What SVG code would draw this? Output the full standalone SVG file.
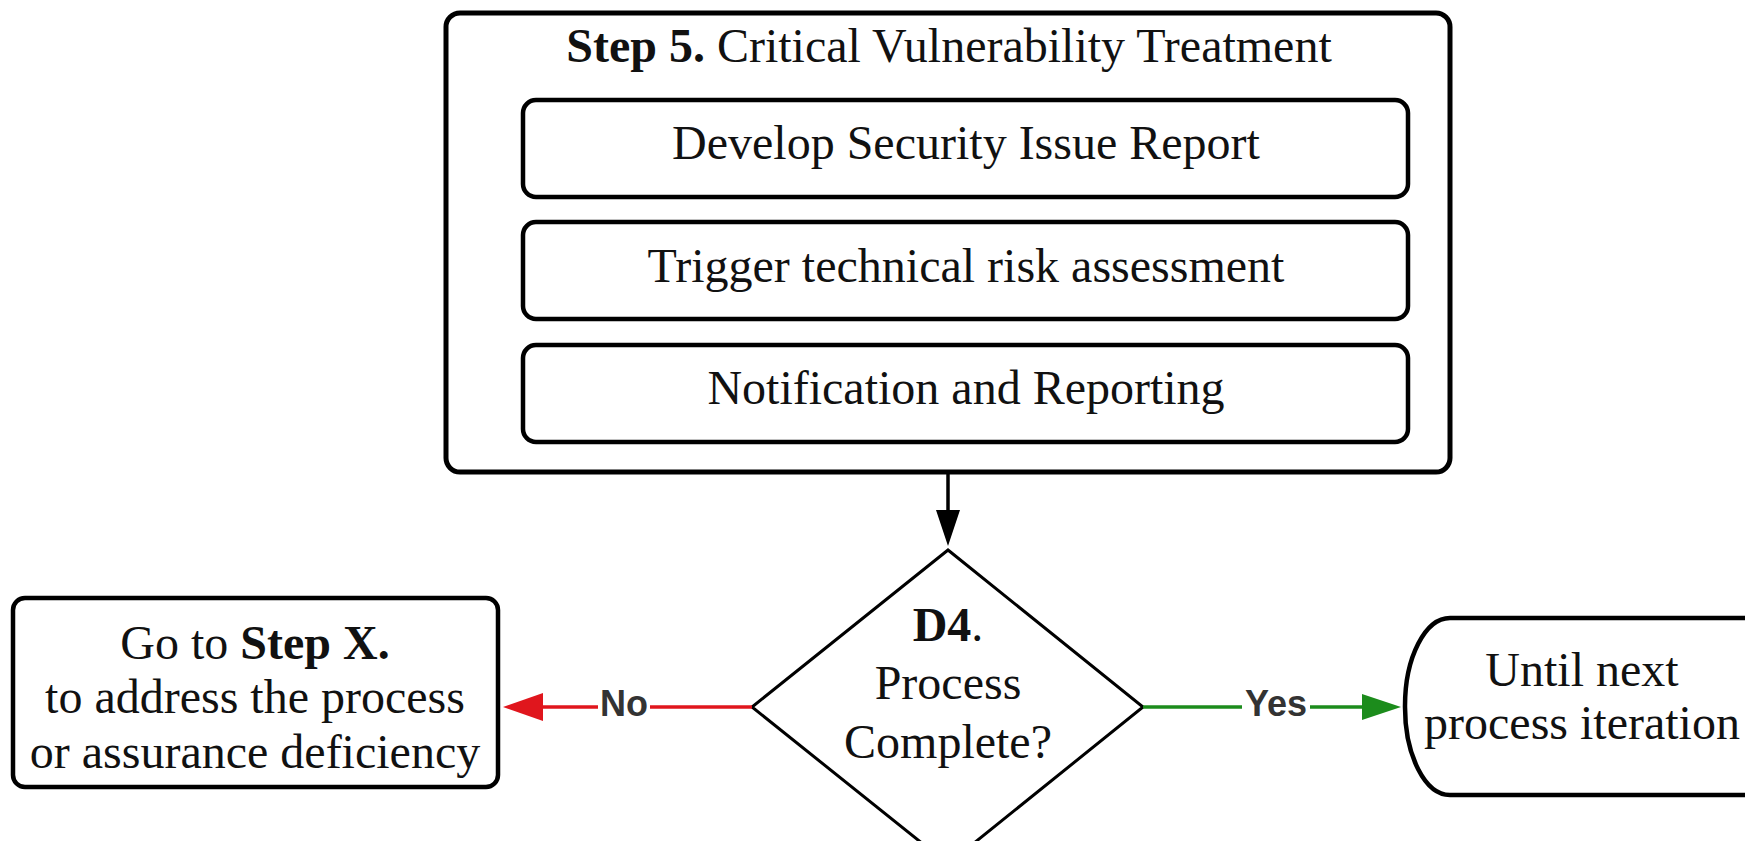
<svg xmlns="http://www.w3.org/2000/svg" width="1745" height="841" viewBox="0 0 1745 841">
<style>
.node{fill:#fff;stroke:#000}
.t{font-family:"Liberation Serif","Times New Roman",serif;font-size:48px;fill:#111;text-anchor:middle}
.b{font-weight:bold}
.lbl{font-family:"Liberation Sans",Arial,sans-serif;font-size:36px;font-weight:bold;fill:#333;text-anchor:middle}
</style>
<rect width="1745" height="841" fill="#fff"/>
<g id="step5">
<rect class="node" x="446" y="13" width="1004" height="459" rx="14" stroke-width="5"/>
<text class="t" x="949" y="62"><tspan class="b">Step 5.</tspan> Critical Vulnerability Treatment</text>
</g>
<g id="develop">
<rect class="node" x="523" y="100" width="885" height="97" rx="13" stroke-width="4.5"/>
<text class="t" x="966" y="159">Develop Security Issue Report</text>
</g>
<g id="trigger">
<rect class="node" x="523" y="222" width="885" height="97" rx="13" stroke-width="4.5"/>
<text class="t" x="966" y="282">Trigger technical risk assessment</text>
</g>
<g id="notify">
<rect class="node" x="523" y="345" width="885" height="97" rx="13" stroke-width="4.5"/>
<text class="t" x="966" y="404">Notification and Reporting</text>
</g>
<g id="d4">
<polygon class="node" points="948,550 1143,707 948,864 752,707" stroke-width="3"/>
<text class="t" x="948" y="641"><tspan class="b">D4</tspan>.</text>
<text class="t" x="948" y="699">Process</text>
<text class="t" x="948" y="758">Complete?</text>
</g>
<g id="gotoX">
<rect class="node" x="13" y="598" width="485" height="189" rx="12" stroke-width="4.5"/>
<text class="t" x="255" y="659">Go to <tspan class="b">Step X.</tspan></text>
<text class="t" x="255" y="713">to address the process</text>
<text class="t" x="255" y="768">or assurance deficiency</text>
</g>
<g id="until">
<rect class="node" x="1405" y="618" width="400" height="177" rx="45" ry="88" stroke-width="4.5"/>
<text class="t" x="1582" y="686">Until next</text>
<text class="t" x="1582" y="739">process iteration</text>
</g>
<g id="connectors">
<line x1="948" y1="472" x2="948" y2="512" stroke="#000" stroke-width="3.5"/>
<polygon points="936,510 960,510 948,546" fill="#000"/>
<line x1="752" y1="707" x2="540" y2="707" stroke="#e0161d" stroke-width="3.5"/>
<polygon points="543,693 543,721 503,707" fill="#e0161d"/>
<rect x="598" y="684" width="52" height="40" fill="#fff"/>
<text class="lbl" x="624" y="716">No</text>
<line x1="1143" y1="707" x2="1365" y2="707" stroke="#1c8c1c" stroke-width="3.5"/>
<polygon points="1362,694 1362,720 1401,707" fill="#1c8c1c"/>
<rect x="1242" y="684" width="68" height="40" fill="#fff"/>
<text class="lbl" x="1276" y="716">Yes</text>
</g>
</svg>
